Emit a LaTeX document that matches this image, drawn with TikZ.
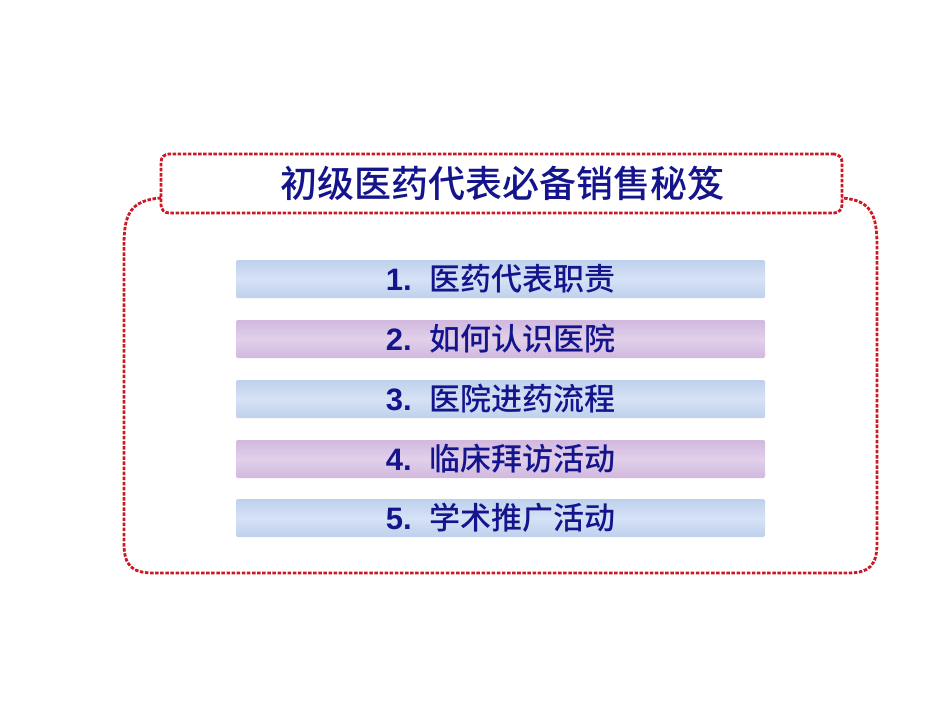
\documentclass[tikz,border=0pt]{standalone}
\usepackage{fontspec}
\setmainfont{Liberation Sans}
\newfontfamily\cjk{Noto Sans CJK SC}[BoldFont={Noto Sans CJK SC Medium}]
\begin{document}
\begin{tikzpicture}[x=1pt,y=-1pt,
  frame/.style={draw={rgb,255:red,205;green,25;blue,35},line width=2.8pt,dash pattern=on 3.5pt off 1.6pt},
  bar/.style={minimum width=529pt,minimum height=38pt,inner sep=0pt,rounded corners=1.5pt},
  bluebar/.style={bar,top color={rgb,255:red,190;green,208;blue,236},bottom color={rgb,255:red,190;green,208;blue,236},middle color={rgb,255:red,214;green,226;blue,246}},
  purplebar/.style={bar,top color={rgb,255:red,208;green,184;blue,222},bottom color={rgb,255:red,208;green,184;blue,222},middle color={rgb,255:red,226;green,208;blue,234}},
  lbl/.style={text={rgb,255:red,20;green,20;blue,140},font=\bfseries\fontsize{31pt}{33pt}\selectfont}]
\useasboundingbox (0,0) rectangle (950,713);
\draw[frame] (161,198) .. controls (130,200) and (124,215) .. (124,245) -- (124,543)
  .. controls (124,566) and (132,573) .. (154,573) -- (847,573)
  .. controls (869,573) and (877,566) .. (877,543)
  -- (877,245) .. controls (877,215) and (871,200) .. (842,198);
\node[frame,rounded corners=8pt,minimum width=681pt,minimum height=59pt] (title) at (501.5,183.5) {};
\node[lbl,font=\cjk\bfseries\fontsize{37pt}{39pt}\selectfont] (tt) at (502,183.5) {初级医药代表必备销售秘笈};
\node[bluebar] (b1) at (500.5,279) {};
\node[purplebar] (b2) at (500.5,339) {};
\node[bluebar] (b3) at (500.5,399) {};
\node[purplebar] (b4) at (500.5,459) {};
\node[bluebar] (b5) at (500.5,518) {};
\node[lbl] (t1) at (b1) {1.\ \ {\cjk 医药代表职责}};
\node[lbl] (t2) at (b2) {2.\ \ {\cjk 如何认识医院}};
\node[lbl] (t3) at (b3) {3.\ \ {\cjk 医院进药流程}};
\node[lbl] (t4) at (b4) {4.\ \ {\cjk 临床拜访活动}};
\node[lbl] (t5) at (b5) {5.\ \ {\cjk 学术推广活动}};
\end{tikzpicture}
\end{document}
